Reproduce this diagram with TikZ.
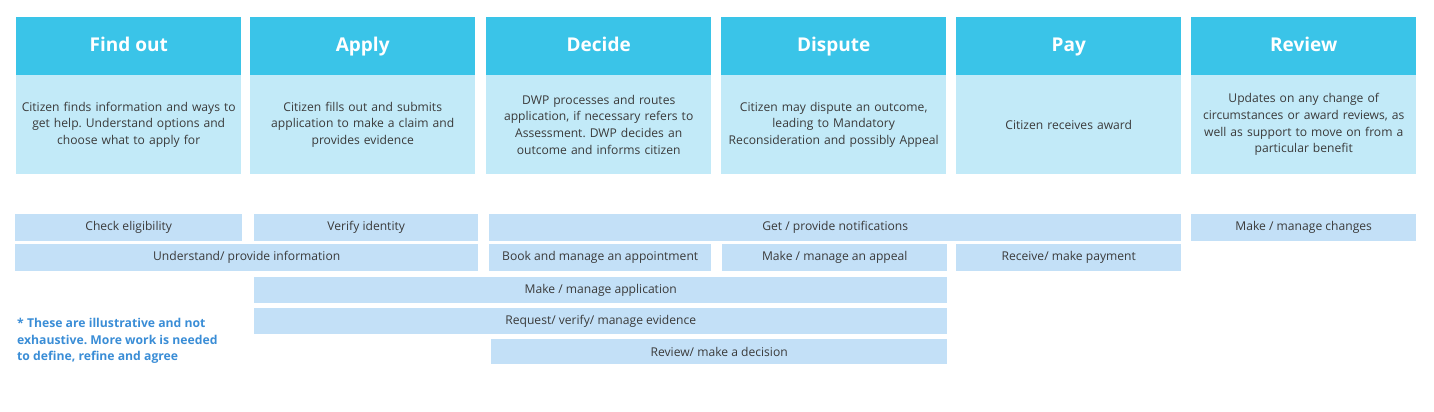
\documentclass[tikz,border=0pt]{standalone}
\usepackage{fontspec}
\setmainfont{Open Sans}
\usetikzlibrary{positioning}
\frenchspacing
\definecolor{headcyan}{HTML}{3AC4E8}
\definecolor{bodycyan}{HTML}{C2EAF8}
\definecolor{barblue}{HTML}{C3E0F7}
\definecolor{txtgray}{HTML}{3A3A3A}
\definecolor{noteblue}{HTML}{3A8DD6}
\tikzset{
  font=\fontsize{12.1}{16.7}\selectfont,
  head/.style={fill=headcyan, text=white, font=\bfseries\fontsize{19}{20}\selectfont,
    inner sep=0pt, text height=13.6pt, text depth=3pt,
    minimum width=225pt, minimum height=58pt, anchor=north west},
  body/.style={fill=bodycyan, text=txtgray, align=center, text width=220pt,
    inner sep=0pt, minimum width=225pt, minimum height=99pt, anchor=north west},
  bar/.style={fill=barblue, text=txtgray, inner sep=0pt, minimum height=27pt,
    anchor=north west},
  note/.style={text=noteblue, font=\bfseries\fontsize{12.2}{16.7}\selectfont,
    align=left, inner sep=0pt, anchor=north west},
}
\begin{document}
\begin{tikzpicture}[x=1pt,y=-1pt]
\useasboundingbox (0,0) rectangle (1434,412);
% stage columns: header + description
\foreach \x/\n/\t/\d in {
  16/find/{Find out}/{Citizen finds information and ways to\\get help. Understand options and\\choose what to apply for},
  250/apply/{Apply}/{Citizen fills out and submits\\application to make a claim and\\provides evidence},
  486/decide/{Decide}/{DWP processes and routes\\application, if necessary refers to\\Assessment. DWP decides an\\outcome and informs citizen},
  721/dispute/{Dispute}/{Citizen may dispute an outcome,\\leading to Mandatory\\Reconsideration and possibly Appeal},
  956/pay/{Pay}/{Citizen receives award},
  1191/review/{Review}/{Updates on any change of\\circumstances or award reviews, as\\well as support to move on from a\\particular benefit}}{
  \node[head] (\n-h) at (\x,17) {\t};
  \node[body] (\n-b) at (\x,75) {\d};
}
% row 1
\node[bar, minimum width=227pt] (elig) at (15,214) {Check eligibility};
\node[bar, minimum width=224pt] (ident) at (254,214) {Verify identity};
\node[bar, minimum width=692pt] (notif) at (489,214) {Get / provide notifications};
\node[bar, minimum width=225pt] (chng) at (1191,214) {Make / manage changes};
% row 2
\node[bar, minimum width=463pt] (info) at (15,244) {Understand/ provide information};
\node[bar, minimum width=222pt] (appt) at (489,244) {Book and manage an appointment};
\node[bar, minimum width=225pt] (appeal) at (722,244) {Make / manage an appeal};
\node[bar, minimum width=225pt] (paym) at (956,244) {Receive/ make payment};
% rows 3-5
\node[bar, minimum width=693pt, minimum height=26pt] (appl) at (254,277) {Make / manage application};
\node[bar, minimum width=693pt, minimum height=26pt] (evid) at (254,308) {Request/ verify/ manage evidence};
\node[bar, minimum width=456pt, minimum height=25pt] (decn) at (491,339) {Review/ make a decision};
% note
\node[note] (caveat) at (17,318) {* These are illustrative and not\\exhaustive. More work is needed\\to define, refine and agree};
\end{tikzpicture}
\end{document}
